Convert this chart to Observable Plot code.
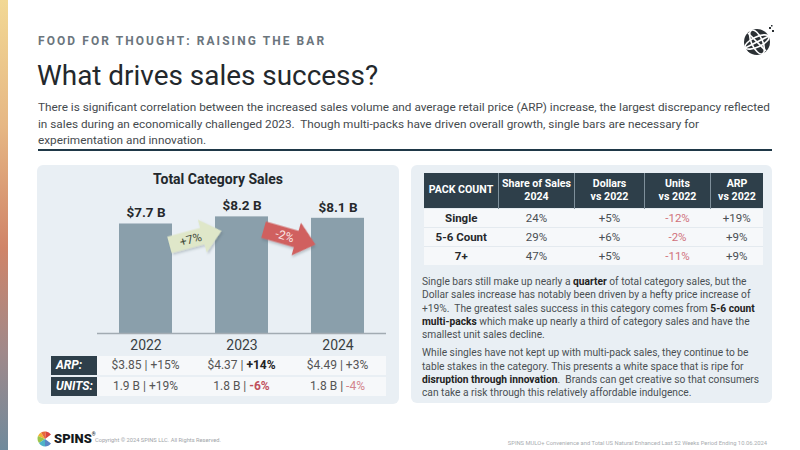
<!DOCTYPE html>
<html>
<head>
<meta charset="utf-8">
<script src="https://cdn.jsdelivr.net/npm/d3@7"></script>
<script src="https://cdn.jsdelivr.net/npm/@observablehq/plot@0.6"></script>
<style>
  html, body { margin: 0; padding: 0; }
  body { width: 800px; height: 450px; position: relative; overflow: hidden; background: #fff;
         font-family: Roboto, "Noto Sans", sans-serif; color: #444; }
  .abs { position: absolute; }
  #stripe { left: 0; top: 0; width: 8px; height: 450px;
            background: linear-gradient(#f2d894 0%, #e6b784 28%, #d08468 55%, #a0898a 78%, #708a9c 100%); }
  #kicker { left: 38px; top: 34px; font-size: 13px; font-weight: 700; letter-spacing: 2.1px; color: #6b757d; white-space: nowrap; }
  #title { left: 37px; top: 59px; font-size: 29px; color: #23282c; white-space: nowrap; }
  #intro { left: 38px; top: 99px; font-size: 12.7px; line-height: 16.5px; color: #454a4e; white-space: nowrap; }
  #divider { left: 38px; top: 149px; width: 734px; height: 2px; background: #1f3847; }
  .panel { background: #e9eff4; border-radius: 6px; }
  #leftPanel { left: 37px; top: 165px; width: 362px; height: 239px; }
  #rightPanel { left: 411px; top: 165px; width: 361px; height: 238px; }
  #chartTitle { left: 37px; top: 171px; width: 362px; text-align: center; font-size: 14px; font-weight: 700; color: #23282c; }
  #chart { left: 37px; top: 195px; }
  .lblCell { background: #2e3f4a; color: #fff; font-weight: 700; font-style: italic; font-size: 12px;
             line-height: 19px; padding-left: 5px; box-sizing: border-box; }
  .rowBg { background: #f6f8fa; }
  .val { font-size: 12px; line-height: 19px; color: #555; text-align: center; white-space: nowrap; transform: translateX(-50%); }
  #packTable { left: 424px; top: 173px; border-collapse: collapse; font-size: 10.6px; table-layout: fixed; }
  #packTable th { background: #2e3f4a; color: #fff; font-weight: 700; height: 35px; padding: 0; line-height: 12.5px;
                  border-left: 1px solid #7f909b; white-space: nowrap; }
  #packTable th:first-child { border-left: none; }
  #packTable td { background: #f6f8fa; height: 18px; padding: 0; text-align: center; color: #4a4f53;
                  border-top: 1px solid #e4eaef; font-size: 11.5px; white-space: nowrap; }
  #packTable td.pc { font-weight: 700; color: #26292c; }
  #packTable td.neg { color: #d0717b; }
  #notes { left: 422px; top: 275px; font-size: 11.6px; line-height: 13.3px; color: #4a4f53; white-space: nowrap; }
  #notes p { margin: 0 0 5px 0; }
  #notes b { color: #222; }
  #copy { left: 95px; top: 437px; font-size: 5.7px; color: #a0a4a8; white-space: nowrap; }
  #source { right: 33px; top: 440px; font-size: 5.8px; color: #a8acb0; white-space: nowrap; }
  #brand { left: 54px; top: 431px; font-size: 13px; font-weight: 900; color: #15191c; }
</style>
</head>
<body>
<div id="stripe" class="abs"></div>
<div id="kicker" class="abs" data-width="287">FOOD FOR THOUGHT: RAISING THE BAR</div>
<div id="title" class="abs" data-width="341">What drives sales success?</div>
<div id="intro" class="abs" data-width="732">There is significant correlation between the increased sales volume and average retail price (ARP) increase, the largest discrepancy reflected<br>in sales during an economically challenged 2023.&nbsp; Though multi-packs have driven overall growth, single bars are necessary for<br>experimentation and innovation.</div>
<div id="divider" class="abs"></div>

<svg class="abs" style="left:740px;top:24px" width="36" height="34" viewBox="0 0 36 34">
  <circle cx="17" cy="18" r="13" fill="#2b3034"/>
  <g stroke="#fff" stroke-width="1.6" fill="none">
    <ellipse cx="17" cy="18" rx="13" ry="5" transform="rotate(-25 17 18)"/>
    <ellipse cx="17" cy="18" rx="5.5" ry="13" transform="rotate(-25 17 18)"/>
    <line x1="5" y1="24" x2="29" y2="12"/>
    <line x1="8" y1="9" x2="26" y2="27"/>
  </g>
  <g fill="#2b3034"><rect x="29" y="3" width="2" height="2"/><rect x="32" y="6" width="2" height="2"/><rect x="31" y="1" width="1.5" height="1.5"/></g>
</svg>

<div id="leftPanel" class="abs panel"></div>
<div id="rightPanel" class="abs panel"></div>
<div id="chartTitle" class="abs">Total Category Sales</div>
<div id="chart" class="abs"></div>
<div id="arpTable"></div>

<table id="packTable" class="abs"></table>

<div id="notes" class="abs" data-width="337">
  <p>Single bars still make up nearly a <b>quarter</b> of total category sales, but the<br>Dollar sales increase has notably been driven by a hefty price increase of<br>+19%.&nbsp; The greatest sales success in this category comes from <b>5-6 count</b><br><b>multi-packs</b> which make up nearly a third of category sales and have the<br>smallest unit sales decline.</p>
  <p>While singles have not kept up with multi-pack sales, they continue to be<br>table stakes in the category. This presents a white space that is ripe for<br><b>disruption through innovation</b>.&nbsp; Brands can get creative so that consumers<br>can take a risk through this relatively affordable indulgence.</p>
</div>

<svg class="abs" style="left:37px;top:431px" width="16" height="16" viewBox="0 0 16 16">
  <g transform="translate(8 8)">
    <path d="M0 0 L-7 -3 A7.5 7.5 0 0 1 -4 -6.5Z" fill="#f2b134"/>
    <path d="M0 0 L-4 -6.5 A7.5 7.5 0 0 1 1 -7.5Z" fill="#e7683a"/>
    <path d="M0 0 L1 -7.5 A7.5 7.5 0 0 1 6 -4.5Z" fill="#d8433f"/>
    <path d="M0 0 L-7 -3 A7.5 7.5 0 0 0 -6 4Z" fill="#9cc54a"/>
    <path d="M0 0 L-6 4 A7.5 7.5 0 0 0 0 7.5Z" fill="#4fb3c8"/>
    <path d="M0 0 L0 7.5 A7.5 7.5 0 0 0 6 4.5Z" fill="#5b86c5"/>
  </g>
</svg>
<div id="brand" class="abs">SPINS<span style="font-size:5px;vertical-align:top">®</span></div>
<div id="copy" class="abs">Copyright © 2024 SPINS LLC. All Rights Reserved.</div>
<div id="source" class="abs">SPINS MULO+ Convenience and Total US Natural Enhanced Last 52 Weeks Period Ending 10.06.2024</div>

<script>
// Total category sales by year ($ billions)
const years = ["2022", "2023", "2024"];
const sales = [7.7, 8.2, 8.1];
const salesLabels = ["$7.7 B", "$8.2 B", "$8.1 B"];
// Year-over-year change shown between the bars
const yoyLabels = ["+7%", "-2%"];
const yoyChange = [7, -2];

// Average retail price and unit volume per year
const arpPrice = ["$3.85", "$4.37", "$4.49"];
const arpChange = ["+15%", "+14%", "+3%"];
const unitVolume = ["1.9 B", "1.8 B", "1.8 B"];
const unitChange = ["+19%", "-6%", "-4%"];

// Pack count breakdown
const packHeaders = ["PACK COUNT", "Share of Sales<br>2024", "Dollars<br>vs 2022", "Units<br>vs 2022", "ARP<br>vs 2022"];
const packCounts = ["Single", "5-6 Count", "7+"];
const shareOfSales = ["24%", "29%", "47%"];
const dollarsVs2022 = ["+5%", "+6%", "+5%"];
const unitsVs2022 = ["-12%", "-2%", "-11%"];
const arpVs2022 = ["+19%", "+9%", "+9%"];

const font = 'Roboto, "Noto Sans", sans-serif';
const rows = years.map((year, i) => ({year, sales: sales[i], label: salesLabels[i]}));

const chart = Plot.plot({
  width: 362,
  height: 160,
  marginLeft: 60,
  marginRight: 13,
  marginTop: 10,
  marginBottom: 22,
  style: {fontFamily: font, fontSize: "14px", color: "#3a3f43", background: "transparent", overflow: "visible"},
  x: {domain: years, paddingInner: 0.45, paddingOuter: 0.22, label: null, tickSize: 0, tickPadding: 7},
  y: {domain: [0, 9], axis: null},
  marks: [
    Plot.barY(rows, {x: "year", y: "sales", fill: "#8a9fab"}),
    Plot.ruleY([0], {stroke: "#a2abb2", strokeWidth: 1.5}),
    Plot.text(rows, {x: "year", y: "sales", text: "label", dy: -11, fontSize: 13.5, fontWeight: "bold", fill: "#26292c"})
  ]
});
document.getElementById("chart").appendChild(chart);

// Change arrows between consecutive bars, positioned with the chart's scales
const xs = chart.scale("x"), ys = chart.scale("y");
const bw = xs.bandwidth;
const svg = d3.select(chart);
const defs = svg.append("defs");
const f = defs.append("filter").attr("id", "arrowShadow").attr("x", "-30%").attr("y", "-30%").attr("width", "160%").attr("height", "160%");
f.append("feDropShadow").attr("dx", 1).attr("dy", 2).attr("stdDeviation", 1.2).attr("flood-color", "#50606a").attr("flood-opacity", 0.3);

const L = 54, b = 8.5, h = 17, H = 20;
const arrowPath = `M${-L/2},${-b} L${L/2 - H},${-b} L${L/2 - H},${-h} L${L/2},0 L${L/2 - H},${h} L${L/2 - H},${b} L${-L/2},${b} Z`;
yoyChange.forEach((c, i) => {
  const up = c >= 0;
  const cx = (xs.apply(years[i]) + bw + xs.apply(years[i + 1])) / 2 + (up ? 2 : 0);
  const cy = ys.apply((sales[i] + sales[i + 1]) / 2) + (up ? 18 : 20);
  const g = svg.append("g").attr("transform", `translate(${cx},${cy}) rotate(${up ? -15 : 16})`);
  g.append("path").attr("d", arrowPath).attr("fill", up ? "#dfe7c9" : "#d0605f").attr("filter", "url(#arrowShadow)");
  g.append("text").attr("x", -5).attr("y", 0).attr("dy", "0.35em").attr("text-anchor", "middle")
    .attr("font-size", 12).attr("font-family", font).attr("fill", up ? "#3f4a3a" : "#fbe9e7").text(yoyLabels[i]);
});

// ARP / UNITS rows under the bars, columns aligned to the band centres
const chartLeft = 37, table = document.getElementById("arpTable");
const tableRows = [
  {label: "ARP:", top: 356, main: arpPrice, change: arpChange},
  {label: "UNITS:", top: 377, main: unitVolume, change: unitChange}
];
tableRows.forEach(r => {
  const lab = document.createElement("div");
  lab.className = "abs lblCell";
  Object.assign(lab.style, {left: "51px", top: r.top + "px", width: "46px", height: "19px"});
  lab.textContent = r.label;
  table.appendChild(lab);
  const bg = document.createElement("div");
  bg.className = "abs rowBg";
  Object.assign(bg.style, {left: "97px", top: r.top + "px", width: "289px", height: "19px"});
  table.appendChild(bg);
  years.forEach((y, i) => {
    const v = document.createElement("div");
    v.className = "abs val";
    v.style.left = (chartLeft + xs.apply(y) + bw / 2) + "px";
    v.style.top = r.top + "px";
    const ch = r.change[i];
    const span = document.createElement("span");
    span.textContent = ch;
    if (ch.startsWith("-")) {
      span.style.color = i === 1 ? "#c0505c" : "#d3848c";
      if (i === 1) span.style.fontWeight = "700";
    } else if (r.label === "ARP:" && i === 1) {
      span.style.color = "#222";
      span.style.fontWeight = "700";
    }
    v.append(`${r.main[i]} | `, span);
    table.appendChild(v);
  });
});

// Pack count table
const pt = document.getElementById("packTable");
const colW = [74, 75, 69, 65, 52];
const head = pt.insertRow();
packHeaders.forEach((t, j) => {
  const th = document.createElement("th");
  th.innerHTML = t;
  th.style.width = colW[j] + "px";
  head.appendChild(th);
});
packCounts.forEach((p, i) => {
  const tr = pt.insertRow();
  [p, shareOfSales[i], dollarsVs2022[i], unitsVs2022[i], arpVs2022[i]].forEach((t, j) => {
    const td = tr.insertCell();
    td.textContent = t;
    if (j === 0) td.className = "pc";
    else if (t.startsWith("-")) td.className = "neg";
  });
});

// Scale text blocks so their widest line spans the width set in data-width
function fitText() {
  document.querySelectorAll("[data-width]").forEach(el => {
    const target = +el.dataset.width;
    const cs = getComputedStyle(el);
    const size = parseFloat(cs.fontSize);
    const w = el.getBoundingClientRect().width;
    if (w > 0) el.style.fontSize = (size * target / w).toFixed(2) + "px";
  });
}
fitText();
if (document.fonts && document.fonts.ready) document.fonts.ready.then(fitText);
</script>
</body>
</html>
